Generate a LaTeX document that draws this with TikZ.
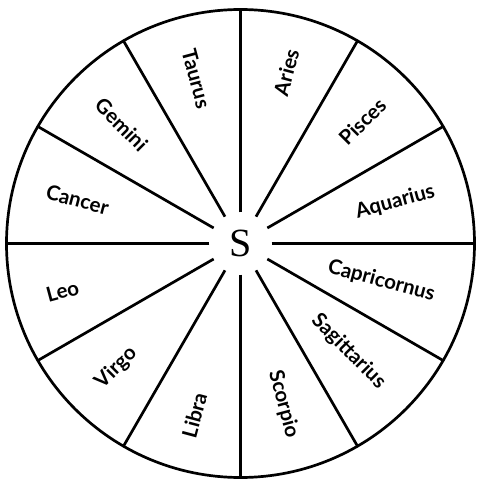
\documentclass[tikz,border=0pt]{standalone}
\usepackage{fontspec}
\setmainfont{Lato}
\newfontfamily\sunfont{Liberation Serif}

\begin{document}
\begin{tikzpicture}[x=1pt,y=1pt,line width=2.7pt,
  sign/.style={font=\fontsize{20.5}{24}\selectfont\bfseries,inner sep=0pt},
  rim/.style={circle,draw,minimum size=468pt,inner sep=0pt,outer sep=0pt},
  hub/.style={circle,minimum size=62pt,inner sep=0pt,outer sep=0pt}]
\useasboundingbox (-240.5,-235.5) rectangle (237.5,243.5);

\node[rim] (wheel) at (0,0) {};
\node[hub] (sun) at (0,0) {\sunfont\fontsize{40}{40}\selectfont S};

% the twelve spokes
\foreach \a in {0,30,...,330} \draw (sun.\a) -- (wheel.\a);

% signs, right half read outward, left half read inward
\foreach \a/\name in {75/Aries,45/Pisces,15/Aquarius,-15/Capricornus,
                      -45/Sagittarius,-75/Scorpio}
  \node[sign,anchor=east,rotate=\a] (sign-\name) at (\a:202) {\name};
\foreach \a/\name in {105/Taurus,135/Gemini,165/Cancer,195/Leo,
                      225/Virgo,255/Libra}
  \node[sign,anchor=west,rotate=\a-180] (sign-\name) at (\a:202) {\name};
\end{tikzpicture}
\end{document}
